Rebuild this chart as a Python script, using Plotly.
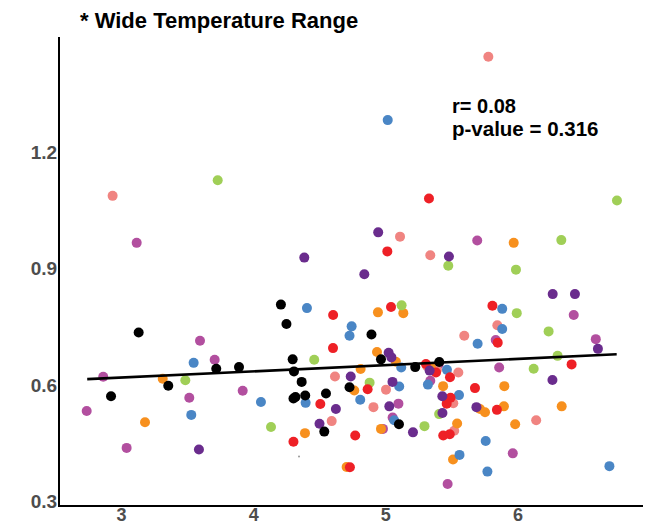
import plotly.graph_objects as go

# ---- data ----
black_x = [3.130, 3.717, 3.889, 3.354, 2.921, 4.206, 4.248, 4.295, 4.305, 4.363, 4.301, 4.316,
           4.390, 4.547, 4.534, 4.891, 4.963, 5.222, 5.404, 4.725, 5.099]
black_y = [0.735, 0.642, 0.646, 0.598, 0.571, 0.807, 0.757, 0.666, 0.635, 0.608, 0.565, 0.569,
           0.573, 0.578, 0.480, 0.730, 0.666, 0.646, 0.659, 0.594, 0.499]

blue_x = [3.546, 3.528, 4.055, 4.403, 4.393, 4.741, 4.725, 5.116, 5.462, 5.318, 5.101, 5.553,
          4.806, 5.063, 5.755, 5.557, 5.768, 6.691, 5.880, 5.880, 5.694, 5.014]
blue_y = [0.657, 0.523, 0.556, 0.798, 0.554, 0.751, 0.727, 0.645, 0.639, 0.601, 0.596, 0.574,
          0.562, 0.509, 0.456, 0.420, 0.377, 0.391, 0.796, 0.744, 0.706, 1.282]

red_x = [4.601, 4.600, 5.039, 4.504, 4.301, 5.303, 5.379, 5.485, 4.862, 5.674, 5.489, 5.460,
         4.768, 5.434, 5.483, 4.728, 5.840, 5.806, 5.846, 6.405, 5.326, 5.011]
red_y = [0.780, 0.695, 0.801, 0.551, 0.454, 0.654, 0.632, 0.620, 0.589, 0.592, 0.567, 0.552,
         0.470, 0.470, 0.473, 0.388, 0.536, 0.804, 0.709, 0.653, 1.080, 0.944]

orange_x = [3.312, 3.178, 4.388, 4.940, 5.132, 4.933, 5.076, 4.809, 5.341, 5.433, 4.761, 4.963,
            5.539, 5.508, 4.703, 5.712, 5.750, 5.893, 5.896, 6.330, 5.978, 5.967]
orange_y = [0.616, 0.504, 0.476, 0.787, 0.785, 0.685, 0.660, 0.641, 0.645, 0.597, 0.586, 0.487,
            0.501, 0.408, 0.389, 0.538, 0.530, 0.545, 0.597, 0.545, 0.499, 0.966]

green_x = [3.483, 4.131, 4.458, 5.119, 4.877, 5.292, 5.403, 6.118, 6.299, 6.231, 5.990, 3.728,
           6.748, 6.327, 5.472, 5.984]
green_y = [0.612, 0.492, 0.665, 0.805, 0.606, 0.494, 0.525, 0.642, 0.675, 0.738, 0.785, 1.127,
           1.075, 0.973, 0.907, 0.897]

pink_x = [4.615, 5.001, 4.906, 4.590, 5.510, 5.517, 5.548, 5.311, 5.386, 5.843, 5.593, 6.137,
          5.775, 2.933, 5.107, 5.336]
pink_y = [0.622, 0.588, 0.543, 0.507, 0.553, 0.482, 0.632, 0.649, 0.639, 0.754, 0.727, 0.509,
          1.445, 1.087, 0.982, 0.934]

magenta_x = [3.594, 3.705, 2.862, 3.513, 3.917, 2.737, 3.039, 3.115, 5.691, 5.095, 5.051, 4.978,
             5.336, 5.399, 5.857, 5.831, 6.421, 6.588, 5.960, 5.467]
magenta_y = [0.714, 0.665, 0.621, 0.567, 0.585, 0.533, 0.438, 0.966, 0.972, 0.552, 0.516, 0.487,
             0.611, 0.653, 0.645, 0.716, 0.780, 0.718, 0.424, 0.345]

purple_x = [3.586, 4.498, 5.021, 5.042, 4.734, 5.050, 5.331, 5.427, 4.622, 5.026, 5.428, 5.685,
            5.205, 6.260, 6.262, 6.430, 6.604, 4.942, 4.383, 5.477, 4.837]
purple_y = [0.434, 0.500, 0.683, 0.671, 0.622, 0.608, 0.637, 0.571, 0.538, 0.545, 0.528, 0.543,
            0.478, 0.613, 0.834, 0.834, 0.693, 0.993, 0.928, 0.931, 0.885]

stray_x = [4.343]
stray_y = [0.416]

trend_x = [2.741, 6.746]
trend_y = [0.615, 0.679]

x_ticks = [3, 4, 5, 6]
y_ticks = [0.3, 0.6, 0.9, 1.2]
y_tick_text = ["0.3", "0.6", "0.9", "1.2"]

title_text = "* Wide Temperature Range"
r_text = "r= 0.08"
p_text = "p-value = 0.316"

# ---- styles ----
groups = [
    (magenta_x, magenta_y, "#B24F9F"),
    (pink_x, pink_y, "#F08481"),
    (orange_x, orange_y, "#F7901E"),
    (green_x, green_y, "#A0CF57"),
    (blue_x, blue_y, "#4A86C5"),
    (red_x, red_y, "#EE2026"),
    (purple_x, purple_y, "#6A2C8D"),
    (black_x, black_y, "#000000"),
]

FONT = "Liberation Sans, Arial, Helvetica, sans-serif"

fig = go.Figure()
for gx, gy, col in groups:
    fig.add_trace(go.Scatter(x=gx, y=gy, mode="markers",
                             marker=dict(color=col, size=10, line=dict(width=0)),
                             showlegend=False, hoverinfo="skip"))

fig.add_trace(go.Scatter(x=stray_x, y=stray_y, mode="markers",
                         marker=dict(color="#999999", size=2, line=dict(width=0)),
                         showlegend=False, hoverinfo="skip"))

fig.add_trace(go.Scatter(x=trend_x, y=trend_y, mode="lines",
                         line=dict(color="black", width=2.6),
                         showlegend=False, hoverinfo="skip"))

fig.add_annotation(x=5.485, y=1.318, xref="x", yref="y", text="<b>" + r_text + "</b>",
                   showarrow=False, xanchor="left", yanchor="middle",
                   font=dict(family=FONT, size=20, color="black"))
fig.add_annotation(x=5.485, y=1.260, xref="x", yref="y", text="<b>" + p_text + "</b>",
                   showarrow=False, xanchor="left", yanchor="middle",
                   font=dict(family=FONT, size=20.5, color="black"))

fig.update_layout(
    width=651, height=525,
    margin=dict(l=60, r=8, t=37, b=20, autoexpand=False),
    paper_bgcolor="white", plot_bgcolor="white",
    title=dict(text="<b>" + title_text + "</b>", xref="container", yref="container",
               x=80 / 651, y=1 - 20 / 525, xanchor="left", yanchor="middle",
               font=dict(family=FONT, size=22, color="black")),
    xaxis=dict(range=[2.535, 6.945], tickvals=x_ticks, ticktext=[str(v) for v in x_ticks],
               showgrid=False, zeroline=False, showline=True, linecolor="black", linewidth=2,
               ticks="", ticklabelstandoff=-8,
               tickfont=dict(family=FONT, size=18, color="#4D4D4D", weight="bold"),
               automargin=False),
    yaxis=dict(range=[0.291, 1.496], tickvals=y_ticks, ticktext=y_tick_text,
               showgrid=False, zeroline=False, showline=True, linecolor="black", linewidth=2,
               ticks="", ticklabelstandoff=-3,
               tickfont=dict(family=FONT, size=19, color="#4D4D4D", weight="bold"),
               automargin=False),
)

fig.write_html("out.html")
